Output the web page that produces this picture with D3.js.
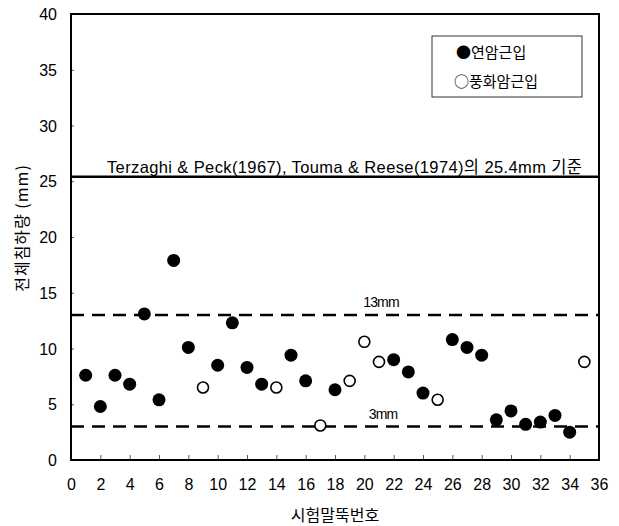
<!DOCTYPE html>
<html>
<head>
<meta charset="utf-8">
<script src="https://cdn.jsdelivr.net/npm/d3@7/dist/d3.min.js"></script>
<style>
  body { margin: 0; background: #fff; }
  svg { display: block; }
  text { font-family: "Liberation Sans", Arial, "Noto Sans CJK KR", sans-serif; fill: #000; }
  .kr { font-family: "Noto Sans CJK KR", "Liberation Sans", sans-serif; }
</style>
</head>
<body>
<svg id="chart" width="619" height="526"></svg>
<script>
// Pile numbers and total settlement (mm)
const pileNo = [1, 2, 3, 4, 5, 6, 7, 8, 9, 10, 11, 12, 13, 14, 15, 16, 17, 18,
                19, 20, 21, 22, 23, 24, 25, 26, 27, 28, 29, 30, 31, 32, 33, 34, 35];
const settlement = [7.6, 4.8, 7.6, 6.8, 13.1, 5.4, 17.9, 10.1, 6.5, 8.5, 12.3, 8.3, 6.8, 6.5,
                    9.4, 7.1, 3.1, 6.3, 7.1, 10.6, 8.8, 9.0, 7.9, 6.0, 5.4, 10.8, 10.1, 9.4,
                    3.6, 4.4, 3.2, 3.4, 4.0, 2.5, 8.8];
// Socket type: "soft" = 연암근입 (filled), "weathered" = 풍화암근입 (open)
const socket = ["soft", "soft", "soft", "soft", "soft", "soft", "soft", "soft", "weathered", "soft",
                "soft", "soft", "soft", "weathered", "soft", "soft", "weathered", "soft", "weathered",
                "weathered", "weathered", "soft", "soft", "soft", "weathered", "soft", "soft", "soft",
                "soft", "soft", "soft", "soft", "soft", "soft", "weathered"];

const xTicks = d3.range(0, 37, 2);
const yTicks = d3.range(0, 41, 5);
const criterionLimit = 25.4;
const guideLines = [13, 3];
const guideLabels = ["13mm", "3mm"];
const legendLabels = ["●연암근입", "○풍화암근입"];

const margin = { left: 71, right: 20, top: 14, bottom: 66 };
const W = 619, H = 526;
const svg = d3.select("#chart");

const x = d3.scaleLinear().domain([0, 36]).range([margin.left, W - margin.right]);
const y = d3.scaleLinear().domain([0, 40]).range([H - margin.bottom, margin.top]);

// Inner tick marks
const yAxis = d3.axisLeft(y).tickValues(yTicks).tickSizeInner(-3).tickSizeOuter(0).tickPadding(14);
const xAxis = d3.axisBottom(x).tickValues(xTicks).tickSizeInner(-5).tickSizeOuter(0).tickPadding(19);

const gy = svg.append("g").attr("transform", `translate(${margin.left},0)`).call(yAxis);
const gx = svg.append("g").attr("transform", `translate(0,${H - margin.bottom})`).call(xAxis);
[gy, gx].forEach(g => {
  g.select(".domain").remove();
  g.selectAll(".tick line").attr("stroke", "#555").attr("stroke-width", 1);
  g.selectAll(".tick text").attr("font-size", 16).attr("font-family", "Liberation Sans, Arial, sans-serif");
});
gy.selectAll(".tick text").attr("dy", "0.35em");

// Plot frame
svg.append("rect")
  .attr("x", x(0)).attr("y", y(40))
  .attr("width", x(36) - x(0)).attr("height", y(0) - y(40))
  .attr("fill", "none").attr("stroke", "#000").attr("stroke-width", 2);

// Criterion line
svg.append("line")
  .attr("x1", x(0)).attr("x2", x(36))
  .attr("y1", y(criterionLimit)).attr("y2", y(criterionLimit))
  .attr("stroke", "#000").attr("stroke-width", 2.5);
svg.append("text")
  .attr("x", 107).attr("y", y(criterionLimit) - 4)
  .attr("font-size", 16.5)
  .attr("textLength", 475).attr("lengthAdjust", "spacing")
  .text("Terzaghi & Peck(1967), Touma & Reese(1974)의 25.4mm 기준");

// Dashed guide lines
svg.selectAll("line.guide").data(guideLines).join("line")
  .attr("class", "guide")
  .attr("x1", x(0)).attr("x2", x(36))
  .attr("y1", d => y(d)).attr("y2", d => y(d))
  .attr("stroke", "#000").attr("stroke-width", 2.5)
  .attr("stroke-dasharray", "13,8");
svg.selectAll("text.guide").data(guideLines).join("text")
  .attr("class", "guide")
  .attr("x", (d, i) => i === 0 ? 381 : 383)
  .attr("y", d => y(d) - 8)
  .attr("text-anchor", "middle")
  .attr("font-size", 14)
  .attr("letter-spacing", -0.8)
  .text((d, i) => guideLabels[i]);

// Data points
const pts = pileNo.map((n, i) => ({ n, v: settlement[i], t: socket[i] }));
svg.selectAll("circle.pt").data(pts).join("circle")
  .attr("class", "pt")
  .attr("cx", d => x(d.n)).attr("cy", d => y(d.v))
  .attr("r", d => d.t === "soft" ? 6.5 : 5.5)
  .attr("fill", d => d.t === "soft" ? "#000" : "#fff")
  .attr("stroke", "#000")
  .attr("stroke-width", d => d.t === "soft" ? 0 : 1.6);

// Legend
svg.append("rect")
  .attr("x", 432).attr("y", 36).attr("width", 150).attr("height", 61)
  .attr("fill", "#fff").attr("stroke", "#333").attr("stroke-width", 1);
svg.selectAll("text.leg").data(legendLabels).join("text")
  .attr("class", "leg kr")
  .attr("x", (d, i) => i === 0 ? 456 : 454)
  .attr("y", (d, i) => 53 + i * 29)
  .attr("dy", "0.35em")
  .attr("font-size", 15)
  .text(d => d);

// Axis titles
svg.append("text")
  .attr("class", "kr")
  .attr("transform", `translate(22,228) rotate(-90)`)
  .attr("text-anchor", "middle").attr("dy", "0.35em")
  .attr("font-size", 16)
  .attr("letter-spacing", 1)
  .text("전체침하량 (mm)");
svg.append("text")
  .attr("class", "kr")
  .attr("x", (x(0) + x(36)) / 2).attr("y", 515)
  .attr("text-anchor", "middle").attr("dy", "0.35em")
  .attr("font-size", 16)
  .text("시험말뚝번호");
</script>
</body>
</html>
